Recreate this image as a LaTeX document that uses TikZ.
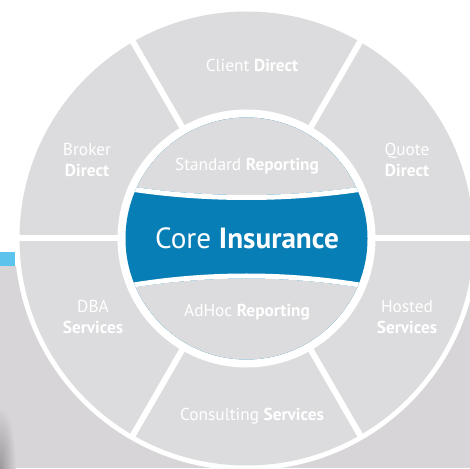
\documentclass[tikz,border=0pt]{standalone}
\usepackage{fontspec}
\setmainfont{PT Sans}
\usetikzlibrary{calc}
\definecolor{seg}{RGB}{220,220,222}
\definecolor{bgray}{RGB}{215,213,216}
\definecolor{core}{RGB}{8,126,182}
\definecolor{bar}{RGB}{92,196,236}
\begin{document}
\begin{tikzpicture}[x=1pt,y=1pt,
  lbl/.style={text=white, font=\fontsize{17.3}{20}\selectfont, inner sep=0pt, anchor=base},
  big/.style={text=white, font=\fontsize{29.2}{32}\selectfont, inner sep=0pt, anchor=base},
  gap/.style={white, line width=6pt}]
\useasboundingbox (0,0) rectangle (470,468);
\clip (0,0) rectangle (470,468);
\fill[white] (0,0) rectangle (470,468);
\fill[bgray] (0,0) rectangle (470,202);
\shade[inner color=black!28!bgray, outer color=bgray] (0,0) ellipse (16 and 62);
\fill[bar] (0,202) rectangle (15,216);
\coordinate (C) at (246.5,229.5);
\fill[white] (C) circle (232);
\fill[seg] (C) circle (227);
\foreach \a in {0,60,...,300} \draw[gap] (C) -- ++(\a:230);
\fill[white] (C) circle (129);
\fill[core] (C) circle (121);
\begin{scope}
  \clip (C) circle (121);
  \fill[seg] ($(C)+(0,824.5)$) circle (781);
  \fill[seg] ($(C)+(0,-740)$) circle (700);
  \draw[white, line width=5pt] ($(C)+(0,824.5)$) circle (783.5);
  \draw[white, line width=5pt] ($(C)+(0,-740)$) circle (702.5);
\end{scope}
\node[lbl] (client) at (252,396.3) {Client \textbf{Direct}};
\node[lbl] (broker1) at (87,312.3) {Broker};
\node[lbl] (broker2) at (87,291.3) {\textbf{Direct}};
\node[lbl] (quote1) at (407,312.3) {Quote};
\node[lbl] (quote2) at (407,291.3) {\textbf{Direct}};
\node[lbl] (std) at (247,297.3) {Standard \textbf{Reporting}};
\node[big] (core) at (247,219) {Core \textbf{Insurance}};
\node[lbl] (adhoc) at (247,151.3) {AdHoc \textbf{Reporting}};
\node[lbl] (dba1) at (93,155.7) {DBA};
\node[lbl] (dba2) at (93,134.7) {\textbf{Services}};
\node[lbl] (hosted1) at (407,155.7) {Hosted};
\node[lbl] (hosted2) at (407,134.7) {\textbf{Services}};
\node[lbl] (consult) at (252,47.3) {Consulting \textbf{Services}};
\end{tikzpicture}
\end{document}
